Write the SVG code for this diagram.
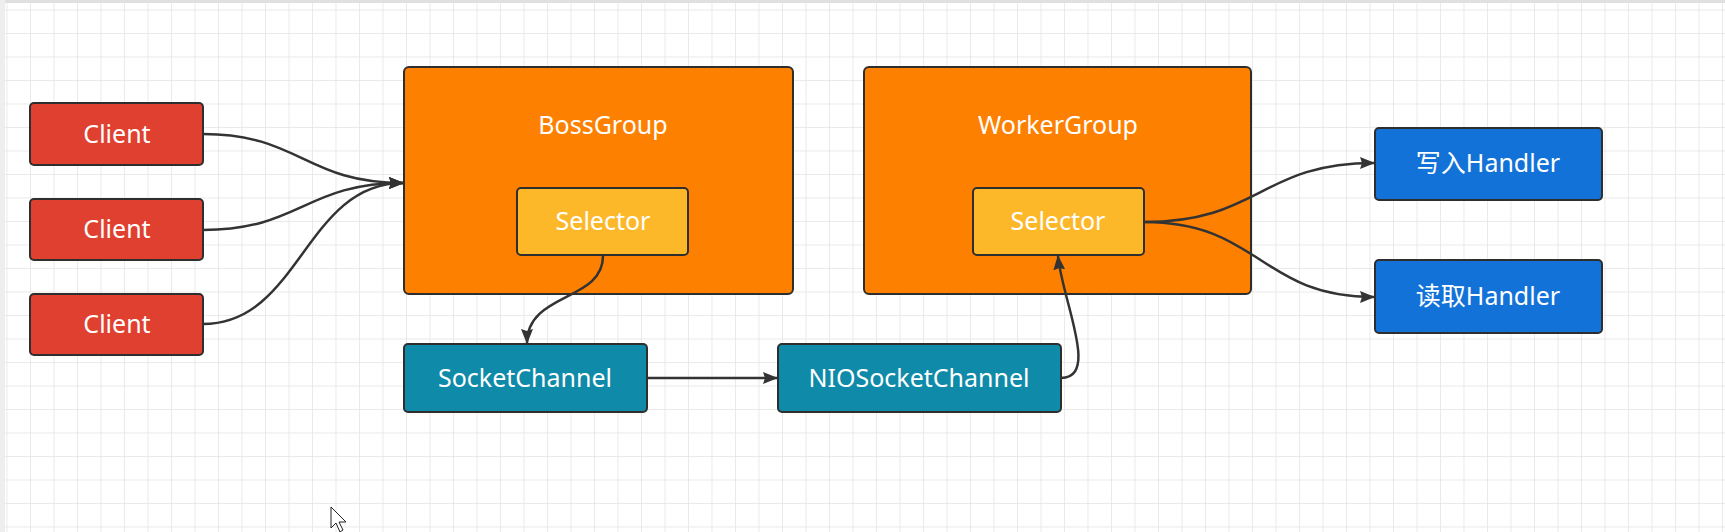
<svg xmlns="http://www.w3.org/2000/svg" width="1725" height="532" viewBox="0 0 1725 532">
<defs>
<pattern id="grid" x="6.5" y="9.5" width="23.5" height="23.5" patternUnits="userSpaceOnUse">
<path d="M0 0 V23.5 M0 0 H23.5" fill="none" stroke="#e4e4e4" stroke-width="1.5"/>
</pattern>
<marker id="arr" viewBox="0 0 15 12" refX="14" refY="6" markerWidth="15" markerHeight="12" markerUnits="userSpaceOnUse" orient="auto">
<path d="M0 0 L15 6 L0 12 L2 6 Z" fill="#333"/>
</marker>
<style>
.box{stroke:#2e2e2e;stroke-width:2}
.t{font-family:"Noto Sans","Microsoft YaHei","Noto Sans CJK SC",sans-serif;font-size:25px;fill:#fff;text-anchor:middle}
.client{fill:#e0402f}
.grp{fill:#fe8000}
.sel{fill:#fdb82a}
.chan{fill:#0f8aa8}
.hdl{fill:#1272d8}
.conn{fill:none;stroke:#333;stroke-width:2.5;marker-end:url(#arr)}
</style>
</defs>
<rect width="1725" height="532" fill="#fff"/>
<rect width="1725" height="532" fill="url(#grid)"/>
<rect x="0" y="0" width="1725" height="3" fill="#e0e0e0"/>
<rect x="0" y="0" width="5" height="532" fill="#eeeeee"/>

<g id="client1"><rect class="box client" x="30" y="103" width="173" height="62" rx="4"/><text class="t" x="117" y="143">Client</text></g>
<g id="client2"><rect class="box client" x="30" y="199" width="173" height="61" rx="4"/><text class="t" x="117" y="238">Client</text></g>
<g id="client3"><rect class="box client" x="30" y="294" width="173" height="61" rx="4"/><text class="t" x="117" y="333">Client</text></g>

<g id="bossgroup"><rect class="box grp" x="404" y="67" width="389" height="227" rx="5"/><text class="t" x="603" y="134">BossGroup</text></g>
<g id="bossselector"><rect class="box sel" x="517" y="188" width="171" height="67" rx="4"/><text class="t" x="603" y="230">Selector</text></g>

<g id="workergroup"><rect class="box grp" x="864" y="67" width="387" height="227" rx="5"/><text class="t" x="1058" y="134">WorkerGroup</text></g>
<g id="workerselector"><rect class="box sel" x="973" y="188" width="171" height="67" rx="4"/><text class="t" x="1058" y="230">Selector</text></g>

<g id="socketchannel"><rect class="box chan" x="404" y="344" width="243" height="68" rx="4"/><text class="t" x="525" y="387">SocketChannel</text></g>
<g id="niosocketchannel"><rect class="box chan" x="778" y="344" width="283" height="68" rx="4"/><text class="t" x="919" y="387">NIOSocketChannel</text></g>

<g id="writehandler"><rect class="box hdl" x="1375" y="128" width="227" height="72" rx="4"/><text class="t" x="1488" y="172">写入Handler</text></g>
<g id="readhandler"><rect class="box hdl" x="1375" y="260" width="227" height="73" rx="4"/><text class="t" x="1488" y="305">读取Handler</text></g>

<g id="connectors">
<path class="conn" d="M203 134 C300 134 305 183 403 183"/>
<path class="conn" d="M203 230 C300 230 305 183 403 183"/>
<path class="conn" d="M203 324 C300 324 305 183 403 183"/>
<path class="conn" d="M603 256 C603 302 527 292 527 343"/>
<path class="conn" d="M647 378 L777 378"/>
<path class="conn" d="M1061 378 C1100 378 1062 300 1058 256"/>
<path class="conn" d="M1144 222 C1260 222 1260 163 1374 163"/>
<path class="conn" d="M1144 222 C1260 222 1260 297 1374 297"/>
</g>

<path d="M331 507 L331 528 L336 523 L340 532 L343 530 L339 522 L346 522 Z" fill="#fff" stroke="#222" stroke-width="1"/>
</svg>
